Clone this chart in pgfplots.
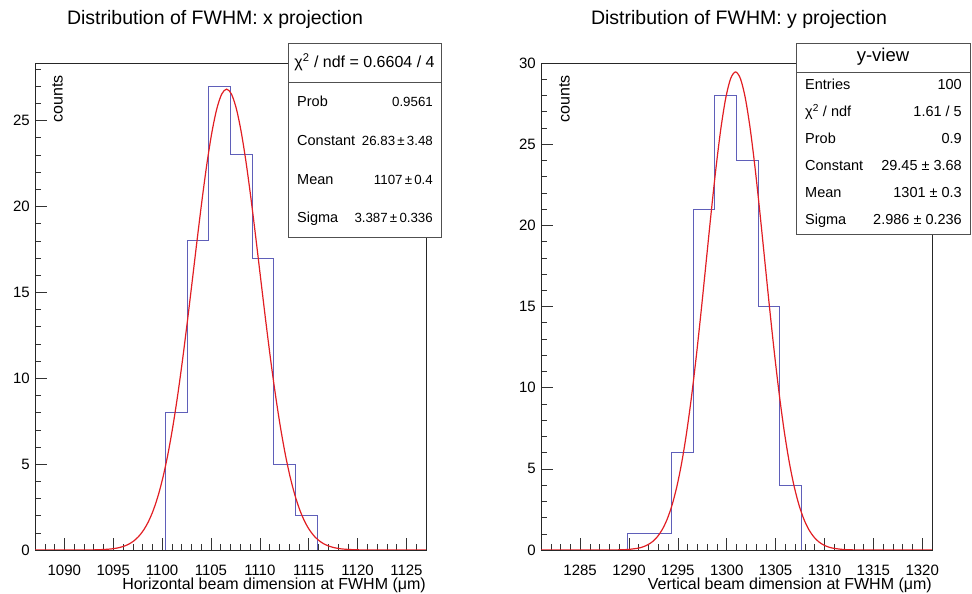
\documentclass[border=0pt]{standalone}
\usepackage{fontspec}
\setmainfont{Liberation Sans}
\usepackage{pgfplots}
\pgfplotsset{compat=1.18}
\definecolor{histblue}{RGB}{95,95,185}
\definecolor{fitred}{RGB}{225,30,35}
\definecolor{boxgray}{RGB}{80,80,80}
\pgfplotsset{rootstyle/.style={
  scale only axis, width=391pt, height=487pt,
  axis line style={line width=0.6pt, black!85},
  tick pos=left, tick align=inside,
  major tick length=12pt, minor tick length=6pt,
  tick style={line width=0.5pt, black!80},
  /pgf/number format/assume math mode=true,
  /pgf/number format/1000 sep={},
  tick label style={font=\fontsize{15}{15}\selectfont},
  xticklabel style={inner sep=0pt, anchor=north, yshift=-15pt},
  yticklabel style={inner sep=0pt, anchor=east, xshift=-5pt},
  ymin=0,
  xlabel style={at={(axis description cs:1,0)}, anchor=base east, yshift=-40pt, inner sep=0pt, font=\fontsize{16}{16}\selectfont},
}}
\begin{document}
\begin{tikzpicture}[x=1pt,y=1pt]
\path[use as bounding box] (0,0) rectangle (972,594);
% left panel
\begin{axis}[rootstyle, at={(35pt,44pt)}, anchor=south west,
  xmin=1087, xmax=1127, ymax=28.35,
  xtick={1090,1095,...,1125}, minor xtick={1087,1088,...,1127},
  ytick={0,5,...,25}, minor ytick={0,1,...,28},
  xlabel={Horizontal beam dimension at FWHM (μm)}]
\addplot[histblue, line width=0.9pt, const plot] coordinates {
(1087,0) (1100.333,8) (1102.556,18) (1104.778,27) (1107,23) (1109.222,17) (1111.444,5) (1113.667,2) (1115.889,0) (1127,0)};
\addplot[fitred, line width=1.2pt, smooth] coordinates {
(1087,0) (1090.6,0) (1092.6,0.005) (1093.6,0.017) (1094.6,0.051) (1095.1,0.084) (1095.6,0.138) (1096.1,0.220) (1096.6,0.343) (1097.1,0.525) (1097.6,0.786) (1098.1,1.151) (1098.6,1.649) (1099.1,2.311) (1099.6,3.171) (1100.1,4.255) (1100.6,5.587) (1101.1,7.179) (1101.6,9.024) (1102.1,11.100) (1102.6,13.359) (1103.1,15.731) (1103.6,18.125) (1104.1,20.432) (1104.6,22.537) (1105.1,24.324) (1105.6,25.686) (1106.1,26.539) (1106.6,26.83) (1107.1,26.539) (1107.6,25.686) (1108.1,24.324) (1108.6,22.537) (1109.1,20.432) (1109.6,18.125) (1110.1,15.731) (1110.6,13.359) (1111.1,11.100) (1111.6,9.024) (1112.1,7.179) (1112.6,5.587) (1113.1,4.255) (1113.6,3.171) (1114.1,2.311) (1114.6,1.649) (1115.1,1.151) (1115.6,0.786) (1116.1,0.525) (1116.6,0.343) (1117.1,0.220) (1117.6,0.138) (1118.1,0.084) (1118.6,0.051) (1119.6,0.017) (1120.6,0.005) (1122.6,0) (1127,0)};
\end{axis}
% right panel
\begin{axis}[rootstyle, at={(541pt,44pt)}, anchor=south west,
  xmin=1281, xmax=1321, ymax=30,
  xtick={1285,1290,...,1320}, minor xtick={1281,1282,...,1321},
  ytick={0,5,...,30}, minor ytick={0,1,...,30},
  xlabel={Vertical beam dimension at FWHM (μm)}]
\addplot[histblue, line width=0.9pt, const plot] coordinates {
(1281,0) (1289.889,1) (1292.111,1) (1294.333,6) (1296.556,21) (1298.778,28) (1301,24) (1303.222,15) (1305.444,4) (1307.667,0) (1321,0)};
\addplot[fitred, line width=1.2pt, smooth] coordinates {
(1281,0) (1286.9,0) (1288.9,0.009) (1289.9,0.033) (1290.9,0.108) (1291.4,0.187) (1291.9,0.314) (1292.4,0.512) (1292.9,0.814) (1293.4,1.256) (1293.9,1.887) (1294.4,2.755) (1294.9,3.912) (1295.4,5.400) (1295.9,7.248) (1296.4,9.461) (1296.9,12.006) (1297.4,14.817) (1297.9,17.779) (1298.4,20.743) (1298.9,23.533) (1299.4,25.959) (1299.9,27.844) (1300.4,29.040) (1300.9,29.45) (1301.4,29.040) (1301.9,27.844) (1302.4,25.959) (1302.9,23.533) (1303.4,20.743) (1303.9,17.779) (1304.4,14.817) (1304.9,12.006) (1305.4,9.461) (1305.9,7.248) (1306.4,5.400) (1306.9,3.912) (1307.4,2.755) (1307.9,1.887) (1308.4,1.256) (1308.9,0.814) (1309.4,0.512) (1309.9,0.314) (1310.4,0.187) (1310.9,0.108) (1311.9,0.033) (1312.9,0.009) (1314.9,0) (1321,0)};
\end{axis}
% titles
\node[anchor=base, inner sep=0pt, font=\fontsize{19.5}{19.5}\selectfont] at (215,569) {Distribution of FWHM: x projection};
\node[anchor=base, inner sep=0pt, font=\fontsize{19.5}{19.5}\selectfont] at (739,569) {Distribution of FWHM: y projection};
% y titles
\node[rotate=90, anchor=north east, inner sep=0pt, font=\fontsize{16}{16}\selectfont] at (52,519) {counts};
\node[rotate=90, anchor=north east, inner sep=0pt, font=\fontsize{16}{16}\selectfont] at (559,519) {counts};
% left stat box
\draw[boxgray, line width=0.6pt, fill=white] (288,357) rectangle (441,551);
\draw[boxgray, line width=0.6pt] (288,512) -- (441,512);
\node[anchor=base, inner sep=0pt, font=\fontsize{16}{16}\selectfont] at (364.5,526) {χ\textsuperscript{2} / ndf = 0.6604 / 4};
\begin{scope}[every node/.style={inner sep=0pt, font=\fontsize{14.5}{14.5}\selectfont}]
\node[anchor=base west] at (297,487) {Prob};
\node[anchor=base west] at (297,448.3) {Constant};
\node[anchor=base west] at (297,409.6) {Mean};
\node[anchor=base west] at (297,371) {Sigma};
\end{scope}
\begin{scope}[every node/.style={inner sep=0pt, font=\fontsize{13.3}{13.3}\selectfont}]
\node[anchor=base east] at (433,487) {0.9561};
\node[anchor=base east] at (433,448.3) {26.83\,±\,3.48};
\node[anchor=base east] at (433,409.6) {1107\,±\,0.4};
\node[anchor=base east] at (433,371) {3.387\,±\,0.336};
\end{scope}
% right stat box
\draw[boxgray, line width=0.6pt, fill=white] (796,360) rectangle (970,551);
\draw[boxgray, line width=0.6pt] (796,522) -- (970,522);
\node[anchor=base, inner sep=0pt, font=\fontsize{18.5}{18.5}\selectfont] at (883,532) {y-view};
\begin{scope}[every node/.style={inner sep=0pt, font=\fontsize{14.5}{14.5}\selectfont}]
\node[anchor=base west] at (805,504) {Entries};
\node[anchor=base east] at (962,504) {100};
\node[anchor=base west] at (805,477) {χ\textsuperscript{2} / ndf};
\node[anchor=base east] at (962,477) {1.61 / 5};
\node[anchor=base west] at (805,450) {Prob};
\node[anchor=base east] at (962,450) {0.9};
\node[anchor=base west] at (805,423) {Constant};
\node[anchor=base east] at (962,423) {29.45 ± 3.68};
\node[anchor=base west] at (805,396) {Mean};
\node[anchor=base east] at (962,396) {1301 ± 0.3};
\node[anchor=base west] at (805,369) {Sigma};
\node[anchor=base east] at (962,369) {2.986 ± 0.236};
\end{scope}
\end{tikzpicture}
\end{document}
